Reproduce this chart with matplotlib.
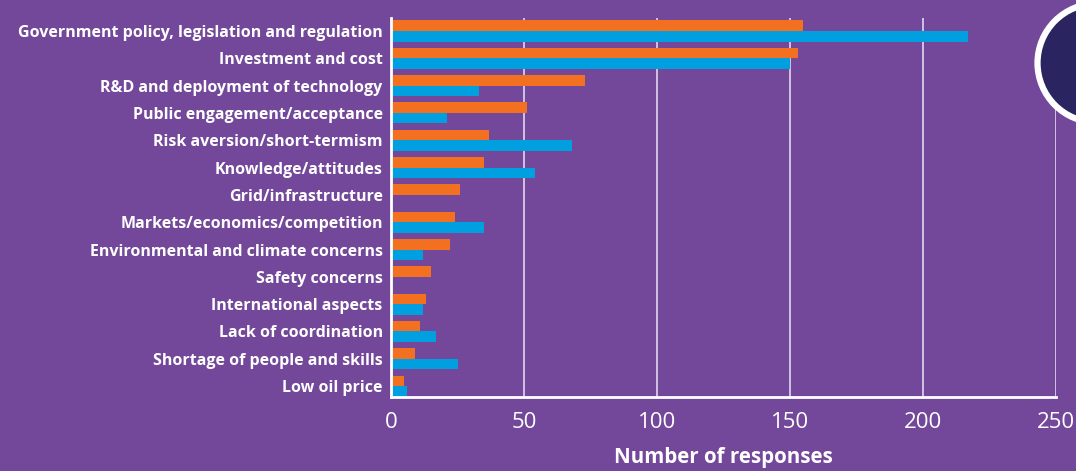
import numpy as np
import matplotlib.pyplot as plt
from matplotlib.patches import Circle

# barriers / responses
categories = ['Government policy, legislation and regulation', 'Investment and cost',
              'R&D and deployment of technology', 'Public engagement/acceptance',
              'Risk aversion/short-termism', 'Knowledge/attitudes', 'Grid/infrastructure',
              'Markets/economics/competition', 'Environmental and climate concerns',
              'Safety concerns', 'International aspects', 'Lack of coordination',
              'Shortage of people and skills', 'Low oil price']
orange_vals = [155, 153, 73, 51, 37, 35, 26, 24, 22, 15, 13, 11, 9, 5]
blue_vals = [217, 150, 33, 21, 68, 54, 0, 35, 12, 0, 12, 17, 25, 6]
xticks = [0, 50, 100, 150, 200, 250]

BG = '#73489a'
ORANGE = '#f37021'
BLUE = '#009fe0'

plt.rcParams['font.family'] = ['Open Sans', 'DejaVu Sans']

fig = plt.figure(figsize=(10.76, 4.71), dpi=100, facecolor=BG)
ax = fig.add_axes([0.3634, 0.1571, 0.9814 - 0.3634, 0.9618 - 0.1571])
ax.set_facecolor(BG)

y = np.arange(len(categories))
h = 0.385
ax.barh(y - h / 2, orange_vals, height=h, color=ORANGE, zorder=3)
ax.barh(y + h / 2, blue_vals, height=h, color=BLUE, zorder=3)

ax.set_xlim(0, 250)
ax.set_ylim(13.4, -0.476)
ax.set_yticks(y)
ax.set_yticklabels(categories, fontsize=11.5, fontweight='bold', color='white')
ax.set_xticks(xticks)
ax.set_xticklabels([str(v) for v in xticks], fontsize=16, color='white')
ax.tick_params(length=0)
ax.tick_params(axis='y', pad=6)
ax.tick_params(axis='x', pad=11)

for v in xticks[1:]:
    ax.axvline(v, color='#d8cce6', lw=1.3, zorder=1)

for s in ['top', 'right']:
    ax.spines[s].set_visible(False)
for s in ['left', 'bottom']:
    ax.spines[s].set_color('white')
    ax.spines[s].set_linewidth(2)
    ax.spines[s].set_zorder(4)

ax.set_xlabel('Number of responses', fontsize=14.8, fontweight='bold', color='white', labelpad=10)

# badge at top right corner
circ = Circle((10.97, 4.08), 0.595, transform=fig.dpi_scale_trans,
              facecolor='#2a2560', edgecolor='white', lw=4.5, zorder=10)
fig.patches.append(circ)

fig.savefig('out.png', dpi=100, facecolor=BG)
